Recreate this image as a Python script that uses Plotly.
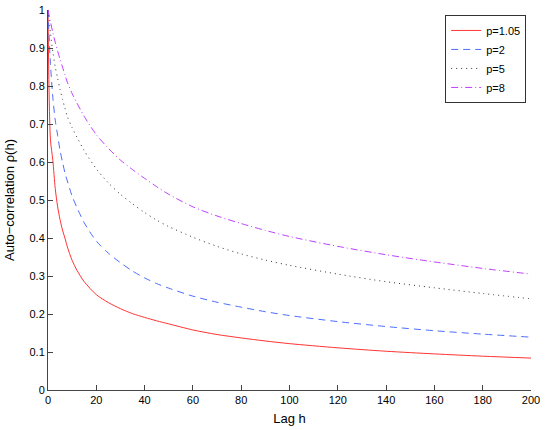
import plotly.graph_objects as go

lags = [0, 1, 2, 3, 4, 5, 6, 7, 8, 10, 12, 15, 20, 25, 30, 35, 40, 45, 50,
        60, 70, 80, 90, 100, 120, 140, 160, 180, 200]

rho_p105 = [1.0, 0.66, 0.605, 0.53, 0.482, 0.448, 0.421, 0.4, 0.377, 0.341,
            0.315, 0.285, 0.251, 0.23, 0.214, 0.201, 0.191, 0.182, 0.174,
            0.158, 0.146, 0.137, 0.129, 0.122, 0.111, 0.102, 0.095, 0.089,
            0.084]
rho_p2 = [1.0, 0.86, 0.77, 0.71, 0.67, 0.63, 0.60, 0.572, 0.55, 0.51, 0.48,
          0.44, 0.392, 0.36, 0.335, 0.313, 0.295, 0.28, 0.268, 0.247, 0.231,
          0.218, 0.206, 0.196, 0.18, 0.167, 0.156, 0.147, 0.139]
rho_p5 = [1.0, 0.94, 0.89, 0.85, 0.82, 0.79, 0.765, 0.742, 0.72, 0.69,
          0.665, 0.63, 0.582, 0.545, 0.515, 0.49, 0.467, 0.447, 0.43, 0.402,
          0.378, 0.358, 0.342, 0.328, 0.305, 0.285, 0.269, 0.254, 0.24]
rho_p8 = [1.0, 0.97, 0.94, 0.915, 0.892, 0.87, 0.85, 0.83, 0.81, 0.78, 0.755,
          0.72, 0.672, 0.636, 0.605, 0.58, 0.557, 0.535, 0.515, 0.482, 0.458,
          0.438, 0.42, 0.404, 0.378, 0.356, 0.337, 0.32, 0.305]

series = [
    ("p=1.05", rho_p105, "#ff3333", "solid"),
    ("p=2", rho_p2, "#4d6dff", "7px,5px"),
    ("p=5", rho_p5, "#333333", "1px,4px"),
    ("p=8", rho_p8, "#c040ff", "7px,3px,1px,3px"),
]

fig = go.Figure()
for name, vals, color, dash in series:
    fig.add_trace(go.Scatter(
        x=lags,
        y=vals,
        mode="lines",
        name=name,
        line=dict(color=color, width=1, dash=dash, shape="spline", smoothing=0.8),
    ))

axis_style = dict(
    showline=True,
    linecolor="#444444",
    linewidth=1,
    mirror=False,
    ticks="inside",
    ticklen=5,
    tickcolor="#444444",
    showgrid=False,
    zeroline=False,
    automargin=False,
)

fig.update_layout(
    width=545,
    height=430,
    margin=dict(l=48, r=14, t=10, b=40),
    paper_bgcolor="white",
    plot_bgcolor="white",
    font=dict(family="Liberation Sans, Arial, sans-serif", size=11, color="black"),
    xaxis=dict(
        range=[0, 200],
        tickvals=list(range(0, 201, 20)),
        title=dict(text="Lag h", standoff=8),
        **axis_style,
    ),
    yaxis=dict(
        range=[0, 1],
        tickvals=[i / 10 for i in range(11)],
        ticktext=["0"] + [f"{i / 10:g}" for i in range(1, 10)] + ["1"],
        title=dict(text="Auto\u2212correlation \u03c1(h)", standoff=11),
        **axis_style,
    ),
    legend=dict(
        x=0.99,
        y=0.987,
        xanchor="right",
        yanchor="top",
        bgcolor="white",
        bordercolor="#333333",
        borderwidth=1,
        font=dict(size=11),
        tracegroupgap=0,
        itemwidth=30,
    ),
)

# page body has a default 8px margin; remove it so the figure fills the window
fig.write_html(
    "out.html",
    config={"displayModeBar": False},
    post_script="document.body.style.margin='0';",
)
